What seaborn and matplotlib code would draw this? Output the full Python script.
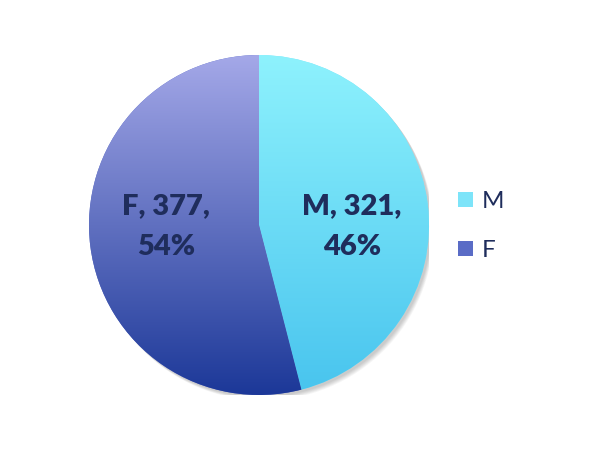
import numpy as np
import matplotlib
matplotlib.use("Agg")
import matplotlib.pyplot as plt
import seaborn as sns
from matplotlib.colors import LinearSegmentedColormap
from matplotlib.patches import Patch, Circle

categories = ["M", "F"]
values = [321, 377]
top_colors = ["#8EF2FD", "#A4A8E8"]
bottom_colors = ["#48C4EE", "#1C3898"]
swatch_colors = ["#7DE4F9", "#5A6CC6"]

sns.set_style("white")
plt.rcParams['font.family'] = ['Lato', 'DejaVu Sans']
text_color = "#1F2D5C"

fig = plt.figure(figsize=(6.08, 4.51), dpi=100)
W, H = 608, 451
cx, cy, r = 259, 225, 170
ax = fig.add_axes([(cx - r) / W, (H - cy - r) / H, 2 * r / W, 2 * r / H])
ax.axis("off")

# soft shadow
for i in range(6):
    ax.add_patch(Circle((0.012 + 0.003 * i, -0.012 - 0.004 * i), 1.0, color="black",
                        alpha=0.035, lw=0, zorder=0))

total = sum(values)
wedges, texts = ax.pie(values, startangle=90, counterclock=False, radius=1.0,
                       colors=swatch_colors, wedgeprops=dict(linewidth=0))
ax.set_xlim(-1, 1)
ax.set_ylim(-1, 1)

grad = np.linspace(1, 0, 256).reshape(-1, 1)
for w, tc, bc in zip(wedges, top_colors, bottom_colors):
    cmap = LinearSegmentedColormap.from_list("g", [bc, tc])
    im = ax.imshow(grad, cmap=cmap, extent=[-1, 1, -1, 1], aspect="auto",
                   origin="upper", zorder=2, vmin=0, vmax=1)
    im.set_clip_path(w)
    w.set_zorder(1)

angle = 90.0
for cat, v in zip(categories, values):
    frac = v / total
    mid = np.deg2rad(angle - frac * 180)
    angle -= frac * 360
    x, y = 0.55 * np.cos(mid), -0.01
    ax.text(x, y, f"{cat}, {v},\n{round(frac*100):.0f}%", ha="center", va="center",
            fontsize=21, fontweight="heavy", color=text_color, linespacing=1.72, zorder=5)

handles = [Patch(facecolor=c, edgecolor="none") for c in swatch_colors]
leg = fig.legend(handles, categories, loc="center left", bbox_to_anchor=(458 / W, 1 - 226 / H),
                 frameon=False, fontsize=17.5, handlelength=0.62, handleheight=0.62,
                 labelspacing=1.15, handletextpad=0.35, borderpad=0, borderaxespad=0)
for t in leg.get_texts():
    t.set_color(text_color)

fig.savefig("out.png", dpi=100)
